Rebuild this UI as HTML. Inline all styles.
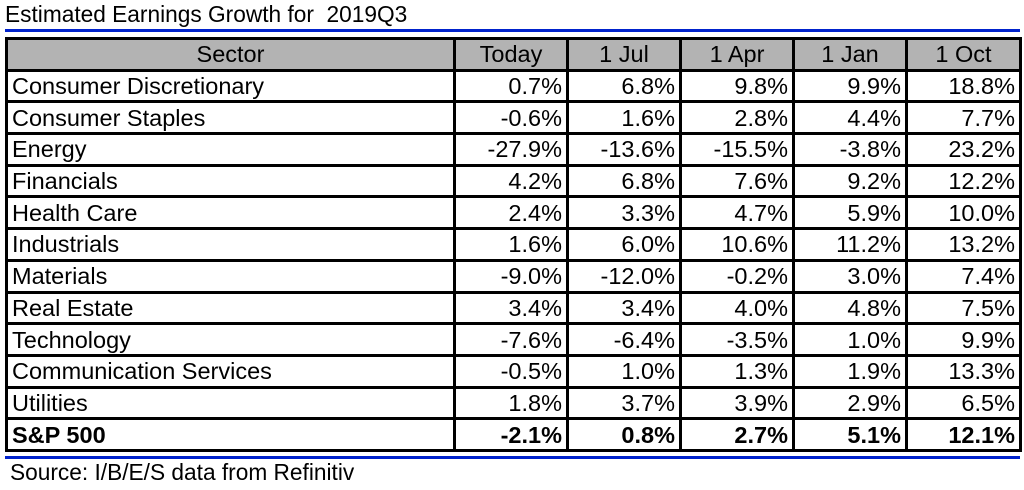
<!DOCTYPE html>
<html><head><meta charset="utf-8"><style>
body{margin:0;width:1024px;height:490px;background:#fff;position:relative;font-family:"Liberation Sans",Arial,sans-serif;overflow:hidden}
#title{position:absolute;left:5px;top:1px;font-size:22.7px;color:#000;white-space:pre}
.blue{position:absolute;left:5px;width:1015px;height:3px;background:#0022cc}
table{position:absolute;left:5px;top:37px;width:1014px;border-collapse:collapse;table-layout:fixed;font-size:23.5px;border:3px solid #000}
td,th{border:3px solid #000;height:28.7px;padding:0 4px;line-height:28px;white-space:nowrap;overflow:hidden}
th{background:#b3b3b3;font-weight:normal;text-align:center}
td{text-align:right}
td:first-child{text-align:left}
tr.tot td{font-weight:bold}
#src{position:absolute;left:10px;top:459px;font-size:22.7px}
</style></head><body>
<div id="title">Estimated Earnings Growth for  2019Q3</div>
<div class="blue" style="top:29px"></div>
<table>
<colgroup><col style="width:448px"><col style="width:113px"><col style="width:113px"><col style="width:113px"><col style="width:113px"><col style="width:114px"></colgroup>
<thead><tr><th>Sector</th><th>Today</th><th>1 Jul</th><th>1 Apr</th><th>1 Jan</th><th>1 Oct</th></tr></thead>
<tbody id="tb"></tbody></table>
<div class="blue" style="top:456px"></div>
<div id="src">Source: I/B/E/S data from Refinitiv</div>
<script>
const sectors=["Consumer Discretionary","Consumer Staples","Energy","Financials","Health Care","Industrials","Materials","Real Estate","Technology","Communication Services","Utilities","S&P 500"];
const today=[0.7,-0.6,-27.9,4.2,2.4,1.6,-9.0,3.4,-7.6,-0.5,1.8,-2.1];
const jul=[6.8,1.6,-13.6,6.8,3.3,6.0,-12.0,3.4,-6.4,1.0,3.7,0.8];
const apr=[9.8,2.8,-15.5,7.6,4.7,10.6,-0.2,4.0,-3.5,1.3,3.9,2.7];
const jan=[9.9,4.4,-3.8,9.2,5.9,11.2,3.0,4.8,1.0,1.9,2.9,5.1];
const oct=[18.8,7.7,23.2,12.2,10.0,13.2,7.4,7.5,9.9,13.3,6.5,12.1];
const tb=document.getElementById('tb');
sectors.forEach((s,i)=>{
  const tr=document.createElement('tr');
  
  
  if(i===sectors.length-1)tr.className='tot';
  [s,...[today,jul,apr,jan,oct].map(a=>a[i].toFixed(1)+'%')].forEach(v=>{
    const td=document.createElement('td');td.textContent=v;tr.appendChild(td);
  });
  tb.appendChild(tr);
});
</script>
</body></html>
